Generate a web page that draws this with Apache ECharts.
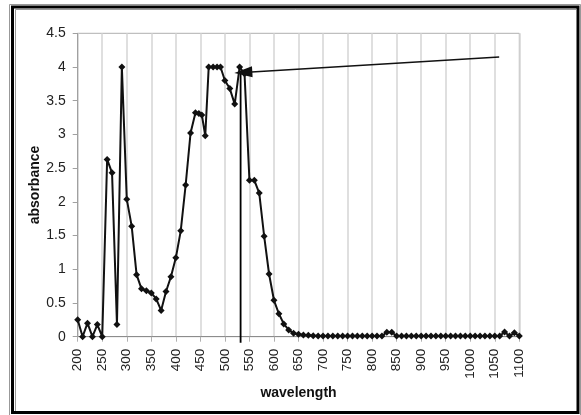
<!DOCTYPE html>
<html>
<head>
<meta charset="utf-8">
<script src="https://cdn.jsdelivr.net/npm/echarts@6/dist/echarts.min.js"></script>
<style>
html,body{margin:0;padding:0;background:#fff;}
#chart{width:581px;height:415px;}
</style>
</head>
<body>
<div id="chart"></div>
<script>
var wavelengths = [200,210,220,230,240,250,260,270,280,290,300,310,320,330,340,350,360,370,380,390,400,410,420,430,440,447,453,460,467,476,484,491,500,510,520,530,540,550,560,570,580,590,600,610,620,630,640,650,660,670,680,690,700,710,720,730,740,750,760,770,780,790,800,810,820,830,840,850,860,870,880,890,900,910,920,930,940,950,960,970,980,990,1000,1010,1020,1030,1040,1050,1060,1070,1080,1090,1100];
var absorbance = [0.25,0,0.2,0,0.18,0,2.63,2.43,0.18,4.0,2.04,1.64,0.92,0.71,0.68,0.65,0.56,0.39,0.67,0.89,1.17,1.57,2.25,3.02,3.32,3.31,3.29,2.98,4.0,4.0,4.0,4.0,3.8,3.68,3.45,4.0,3.9,2.32,2.32,2.13,1.49,0.93,0.54,0.34,0.19,0.1,0.05,0.035,0.025,0.02,0.015,0.01,0.01,0.01,0.01,0.01,0.01,0.01,0.01,0.01,0.01,0.01,0.01,0.01,0.01,0.065,0.065,0.01,0.01,0.01,0.01,0.01,0.01,0.01,0.01,0.01,0.01,0.01,0.01,0.01,0.01,0.01,0.01,0.01,0.01,0.01,0.01,0.01,0.01,0.07,0.01,0.06,0.01];
var markerWavelength = [532, 532];
var markerAbsorbance = [3.95, -0.09];
var arrowStart = [1059, 4.15];
var arrowEnd = [537.5, 3.92];
var xTitle = 'wavelength';
var yTitle = 'absorbance';

var seriesData = wavelengths.map(function(w, i){ return [w, absorbance[i]]; });
var vlineData = markerWavelength.map(function(w, i){ return [w, markerAbsorbance[i]]; });

var font = '"Liberation Sans", Arial, sans-serif';
var chart = echarts.init(document.getElementById('chart'), null, {renderer:'canvas'});
chart.setOption({
  animation:false,
  backgroundColor:'#fff',
  grid:{left:77.7, right:61.7, top:33.3, bottom:78.3, show:true, borderColor:'#b0b0b0', borderWidth:1, backgroundColor:'transparent'},
  xAxis:{
    type:'value', min:200, max:1100, interval:50,
    name:xTitle, nameLocation:'middle', nameGap:49, nameMoveOverlap:false,
    nameTextStyle:{fontFamily:font, fontSize:14, fontWeight:'bold', color:'#111'},
    axisLine:{show:true, onZero:false, lineStyle:{color:'#8c8c8c', width:1}},
    axisTick:{show:true, length:5, lineStyle:{color:'#b0b0b0'}},
    axisLabel:{rotate:90, margin:12, fontFamily:font, fontSize:13.5, color:'#222',
      formatter:function(v){ return String(v); }},
    splitLine:{show:true, lineStyle:{color:'#d4d4d4', width:1.5}}
  },
  yAxis:{
    type:'value', min:0, max:4.5, interval:0.5,
    name:yTitle, nameLocation:'middle', nameGap:36, nameMoveOverlap:false,
    nameTextStyle:{fontFamily:font, fontSize:14, fontWeight:'bold', color:'#111'},
    axisLine:{show:true, lineStyle:{color:'#a0a0a0', width:1}},
    axisTick:{show:true, length:5, lineStyle:{color:'#a0a0a0'}},
    axisLabel:{margin:12, fontFamily:font, fontSize:14, color:'#222',
      formatter:function(v){ return String(v); }},
    splitLine:{show:false}
  },
  series:[
    {
      type:'line', data:seriesData, symbol:'diamond', symbolSize:7,
      itemStyle:{color:'#111'}, lineStyle:{color:'#111', width:2},
      silent:true,
      markLine:{
        silent:true, animation:false,
        symbol:['none','triangle'], symbolSize:[11,18],
        label:{show:false},
        lineStyle:{color:'#111', width:1.5, type:'solid'},
        data:[[{coord:arrowStart},{coord:arrowEnd}]]
      }
    },
    {
      type:'line', data:vlineData, symbol:'none', clip:false, silent:true,
      lineStyle:{color:'#000', width:1.8}
    }
  ],
  graphic:[
    {type:'rect', shape:{x:9.5, y:4.5, width:571, height:411}, style:{fill:'none', stroke:'#999', lineWidth:1}, silent:true},
    {type:'rect', shape:{x:12.5, y:7, width:565.5, height:405.5}, style:{fill:'none', stroke:'#000', lineWidth:3}, silent:true},
    {type:'polyline', shape:{points:[[15.5,411],[15.5,9.5],[576,9.5]]}, style:{fill:'none', stroke:'#999', lineWidth:1}, silent:true}
  ]
});
</script>
</body>
</html>
